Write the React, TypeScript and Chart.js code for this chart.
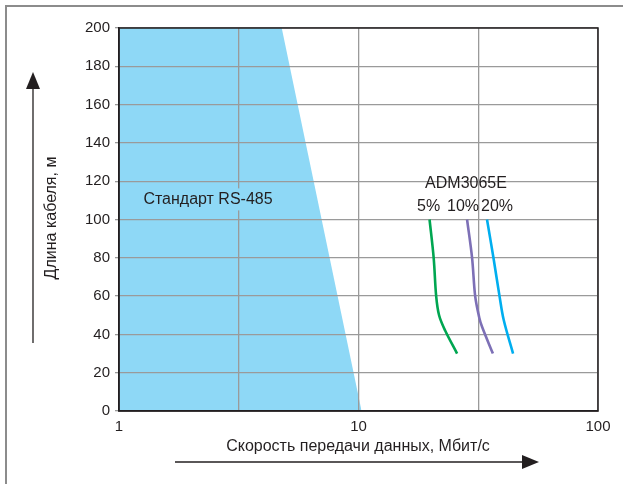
import React, { useEffect, useRef } from "react";
import { Chart, registerables } from "chart.js";

Chart.register(...registerables);

// Cable length axis (m)
const yTicks = [0, 20, 40, 60, 80, 100, 120, 140, 160, 180, 200];
// Data-rate axis (Mbit/s), log scale; grid at half decades, labels on decades
const xGrid = [1, 3.1623, 10, 31.623, 100];
const xLabels = [1, 10, 100];

// RS-485 standard region boundary (rate, length)
const rs485Rate = [1, 4.78, 10.3];
const rs485Len = [200, 200, 0];

// ADM3065E curves: length (m) vs rate (Mbit/s) at different jitter levels
const curveLen = [100, 80, 60, 50, 42, 30];
const jitter5Rate = [19.8, 20.6, 21.1, 21.7, 23.0, 25.8];
const jitter10Len = [100, 80, 60, 49, 44, 30];
const jitter10Rate = [28.4, 29.8, 30.7, 31.9, 32.8, 36.4];
const jitter20Len = [100, 80, 60, 47.5, 30];
const jitter20Rate = [34.4, 36.6, 38.8, 40.4, 44.2];

const seriesNames = ["5%", "10%", "20%"];
const seriesColors = ["#00a651", "#7d70b6", "#00aeef"];

const FONT = "Liberation Sans, Arial, sans-serif";

const pts = (xs: number[], ys: number[]) => xs.map((x, i) => ({ x, y: ys[i] }));

const decorPlugin = {
  id: "decor",
  beforeDraw(chart: any) {
    const ctx = chart.ctx;
    ctx.save();
    // outer frame
    ctx.strokeStyle = "#8c8c8c";
    ctx.lineWidth = 2;
    ctx.beginPath();
    ctx.moveTo(6, chart.height + 5);
    ctx.lineTo(6, 6);
    ctx.lineTo(chart.width + 5, 6);
    ctx.stroke();
    ctx.restore();
  },
  afterDraw(chart: any) {
    const ctx = chart.ctx;
    const { left, right, top, bottom } = chart.chartArea;
    const xs = chart.scales.x;
    const ys = chart.scales.y;
    ctx.save();
    // plot frame
    ctx.strokeStyle = "#231f20";
    ctx.lineWidth = 1.5;
    ctx.strokeRect(left, top, right - left, bottom - top);

    ctx.fillStyle = "#231f20";
    ctx.textAlign = "center";
    ctx.textBaseline = "middle";

    // region label with background
    ctx.font = `16px ${FONT}`;
    const stdText = "Стандарт RS-485";
    const sx = 208;
    const sy = ys.getPixelForValue(110.5);
    const w = ctx.measureText(stdText).width;
    ctx.fillStyle = "#8ed8f6";
    ctx.fillRect(sx - w / 2 - 3, sy - 11, w + 6, 22);
    ctx.fillStyle = "#231f20";
    ctx.fillText(stdText, sx, sy);

    // curve labels
    ctx.fillText("ADM3065E", 466, ys.getPixelForValue(118.5));
    const labelRates = [jitter5Rate[0], jitter10Rate[0], jitter20Rate[0]];
    const labelOffsets = [-1, -4, 10];
    seriesNames.forEach((n, i) => {
      ctx.fillText(n, xs.getPixelForValue(labelRates[i]) + labelOffsets[i], ys.getPixelForValue(107));
    });

    // axis titles
    ctx.font = `16px ${FONT}`;
    ctx.fillText("Скорость передачи данных, Мбит/с", 358, 447);
    ctx.save();
    ctx.translate(52, 218);
    ctx.rotate(-Math.PI / 2);
    ctx.fillText("Длина кабеля, м", 0, 0);
    ctx.restore();

    // arrows
    ctx.strokeStyle = "#231f20";
    ctx.lineWidth = 1.3;
    ctx.beginPath();
    ctx.moveTo(175, 462);
    ctx.lineTo(524, 462);
    ctx.stroke();
    ctx.beginPath();
    ctx.moveTo(539, 462);
    ctx.lineTo(522, 455);
    ctx.lineTo(522, 469);
    ctx.closePath();
    ctx.fill();

    ctx.beginPath();
    ctx.moveTo(33, 343);
    ctx.lineTo(33, 86);
    ctx.stroke();
    ctx.beginPath();
    ctx.moveTo(33, 72);
    ctx.lineTo(26, 89);
    ctx.lineTo(40, 89);
    ctx.closePath();
    ctx.fill();
    ctx.restore();
  },
};

export default function App() {
  const ref = useRef<HTMLCanvasElement>(null);

  useEffect(() => {
    if (!ref.current) return;
    const lineDs = (label: string, data: any[], color: string) => ({
      label,
      data,
      borderColor: color,
      backgroundColor: color,
      borderWidth: 2.6,
      pointRadius: 0,
      tension: 0.35,
      fill: false,
    });
    const chart = new Chart(ref.current, {
      type: "line",
      data: {
        datasets: [
          {
            label: "RS-485",
            data: pts(rs485Rate, rs485Len),
            borderWidth: 0,
            borderColor: "rgba(0,0,0,0)",
            backgroundColor: "#8ed8f6",
            pointRadius: 0,
            fill: "origin",
            tension: 0,
          },
          lineDs(seriesNames[0], pts(jitter5Rate, curveLen), seriesColors[0]),
          lineDs(seriesNames[1], pts(jitter10Rate, jitter10Len), seriesColors[1]),
          lineDs(seriesNames[2], pts(jitter20Rate, jitter20Len), seriesColors[2]),
        ],
      },
      options: {
        responsive: false,
        animation: false,
        devicePixelRatio: 1,
        layout: { padding: { left: 0, top: 28, right: 25, bottom: 0 } },
        plugins: {
          legend: { display: false },
          tooltip: { enabled: false },
          // fill under everything so the grid sits on top of the region
          filler: { drawTime: "beforeDraw" },
        },
        scales: {
          x: {
            type: "logarithmic",
            min: 1,
            max: 100,
            afterBuildTicks: (s: any) => {
              s.ticks = xGrid.map((v) => ({ value: v }));
            },
            afterFit: (s: any) => {
              s.height = 73;
            },
            ticks: {
              autoSkip: false,
              maxRotation: 0,
              padding: 7,
              color: "#231f20",
              font: { family: FONT, size: 15 },
              callback: (v: any) => (xLabels.includes(Number(v)) ? String(v) : ""),
            },
            grid: { color: "#9a9a9a", lineWidth: 1.3, drawTicks: false },
            border: { color: "#231f20", width: 1.5 },
          },
          y: {
            min: 0,
            max: 200,
            afterBuildTicks: (s: any) => {
              s.ticks = yTicks.map((v) => ({ value: v }));
            },
            afterFit: (s: any) => {
              s.width = 119;
            },
            ticks: {
              padding: 5,
              color: "#231f20",
              font: { family: FONT, size: 15 },
            },
            grid: { color: "#9a9a9a", lineWidth: 1.3, drawTicks: true, tickLength: 4 },
            border: { color: "#231f20", width: 1.5 },
          },
        },
      },
      plugins: [decorPlugin],
    });
    return () => chart.destroy();
  }, []);

  return (
    <div style={{ position: "fixed", left: 0, top: 0, width: 623, height: 484, overflow: "hidden", background: "#fff" }}>
      <canvas ref={ref} width={623} height={484} style={{ display: "block", background: "#fff" }} />
    </div>
  );
}
